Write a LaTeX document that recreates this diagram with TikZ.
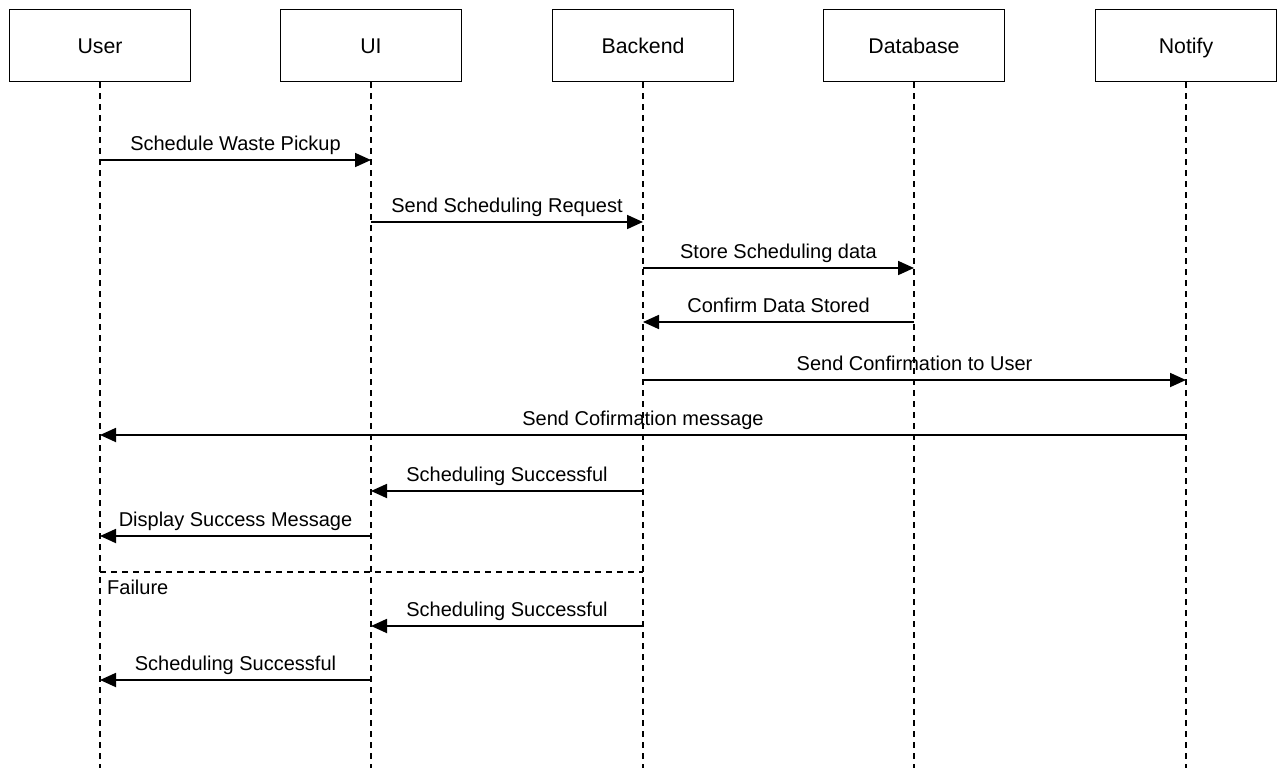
\documentclass[tikz,border=0pt]{standalone}
\usepackage{fontspec}
\setmainfont{Liberation Sans}
\usetikzlibrary{arrows.meta}
\begin{document}
\begin{tikzpicture}[x=1pt,y=-1pt,
  actor/.style={draw=black,line width=1.4pt,minimum width=181pt,minimum height=72pt,inner sep=0pt,text height=15.25pt,text depth=0pt,font=\fontsize{21.3}{25}\selectfont},
  life/.style={line width=1.5pt,dash pattern=on 6pt off 5pt},
  msg/.style={line width=1.8pt,-{Triangle[length=16pt,width=14pt]}},
  lbl/.style={anchor=base,yshift=10pt,inner sep=0pt,font=\fontsize{20}{24}\selectfont}]
\useasboundingbox (0,0) rectangle (1277,768);
\fill[white] (0,0) rectangle (1277,768);
% actors
\node[actor] (user) at (100,45.5) {User};
\node[actor] (ui) at (371,45.5) {UI};
\node[actor] (backend) at (643,45.5) {Backend};
\node[actor] (db) at (914,45.5) {Database};
\node[actor] (notify) at (1186,45.5) {Notify};
% lifeline ends
\coordinate (userEnd) at (user |- 0,768);
\coordinate (uiEnd) at (ui |- 0,768);
\coordinate (backendEnd) at (backend |- 0,768);
\coordinate (dbEnd) at (db |- 0,768);
\coordinate (notifyEnd) at (notify |- 0,768);
\foreach \a in {user,ui,backend,db,notify}
  \draw[life] (\a.south) -- (\a End);
% messages
\draw[msg] (user |- 0,160) -- node[lbl]{Schedule Waste Pickup} (ui |- 0,160);
\draw[msg] (ui |- 0,222) -- node[lbl]{Send Scheduling Request} (backend |- 0,222);
\draw[msg] (backend |- 0,268) -- node[lbl]{Store Scheduling data} (db |- 0,268);
\draw[msg] (db |- 0,322) -- node[lbl]{Confirm Data Stored} (backend |- 0,322);
\draw[msg] (backend |- 0,380) -- node[lbl]{Send Confirmation to User} (notify |- 0,380);
\draw[msg] (notify |- 0,435) -- node[lbl]{Send Cofirmation message} (user |- 0,435);
\draw[msg] (backend |- 0,491) -- node[lbl]{Scheduling Successful} (ui |- 0,491);
\draw[msg] (ui |- 0,536) -- node[lbl]{Display Success Message} (user |- 0,536);
% failure fragment
\coordinate (failL) at (user |- 0,572);
\coordinate (failR) at (backend |- 0,572);
\draw[life] (failL) -- (failR);
\node[anchor=base west,inner sep=0pt,font=\fontsize{20}{24}\selectfont] (failure) at (107,594) {Failure};
\draw[msg] (backend |- 0,626) -- node[lbl]{Scheduling Successful} (ui |- 0,626);
\draw[msg] (ui |- 0,680) -- node[lbl]{Scheduling Successful} (user |- 0,680);
\end{tikzpicture}
\end{document}
